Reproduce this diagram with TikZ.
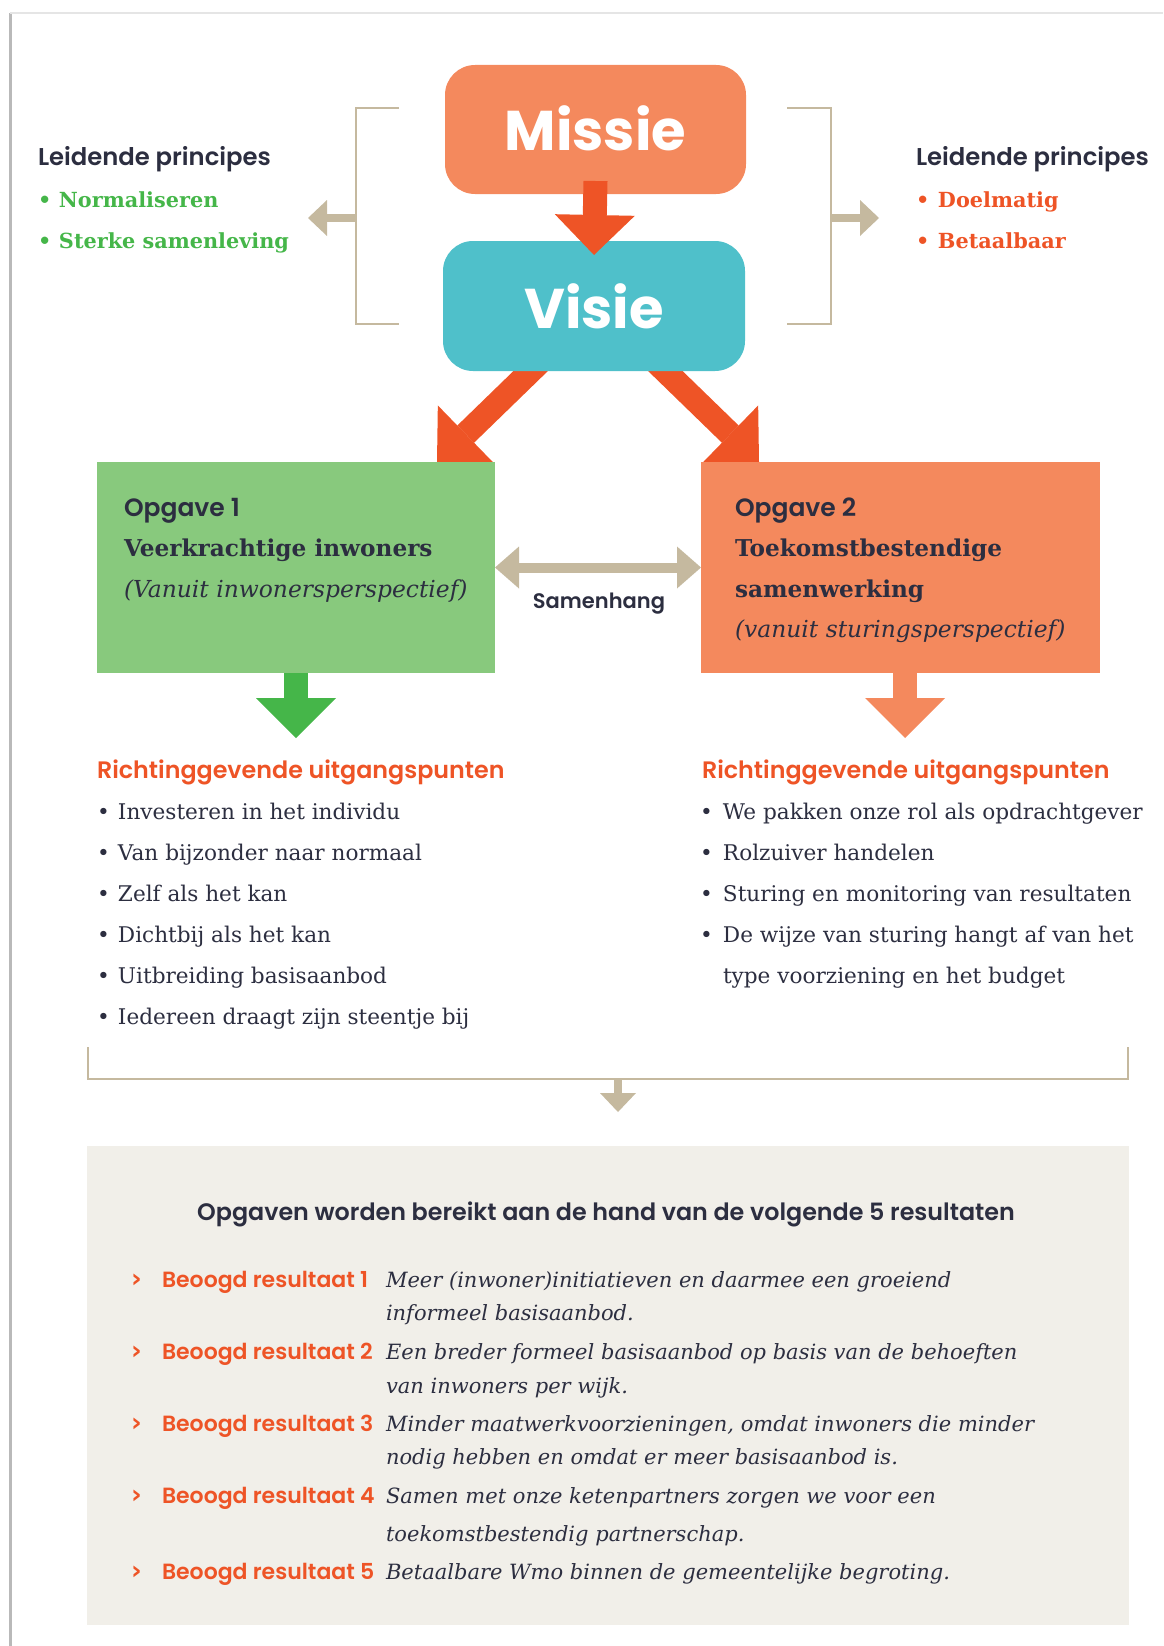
\documentclass[tikz,border=0pt]{standalone}
\usepackage{fontspec}
\setmainfont{DejaVu Serif}
\newfontfamily\headfont{Poppins SemiBold}
\newfontfamily\bigfont{Poppins Bold}
\newfontfamily\symfont{DejaVu Sans}
\usetikzlibrary{arrows.meta,backgrounds}

\definecolor{missieorange}{RGB}{244,137,93}
\definecolor{visieteal}{RGB}{79,192,202}
\definecolor{opggreen}{RGB}{136,201,125}
\definecolor{arrowred}{RGB}{238,84,38}
\definecolor{arrowgreen}{RGB}{69,182,73}
\definecolor{linetan}{RGB}{197,185,159}
\definecolor{resultbg}{RGB}{241,239,233}
\definecolor{textdark}{RGB}{44,46,64}

\begin{document}
\begin{tikzpicture}[x=1pt, y=-1pt,
    every node/.style={inner sep=0pt, outer sep=0pt, text=textdark},
    topbox/.style={rounded corners=30pt, minimum width=301pt, minimum height=129pt,
        text=white, font=\bigfont\fontsize{56}{56}\selectfont},
    opgbox/.style={minimum width=398pt, minimum height=211pt},
    redarrow/.style={draw=arrowred, line width=24pt,
        -{Triangle[width=80pt, length=40pt, line width=0pt]}},
    tanline/.style={draw=linetan, line width=2.5pt},
    tanarrow/.style={draw=linetan, line width=8pt,
        -{Triangle[width=36pt, length=19pt, line width=0pt]}},
    principle/.style={anchor=base west, font=\headfont\fontsize{24.3}{24.3}\selectfont},
    valueitem/.style={anchor=base west, font=\bfseries\fontsize{20.8}{20.8}\selectfont},
    opgtitle/.style={anchor=base west, font=\headfont\fontsize{25}{25}\selectfont},
    opgname/.style={anchor=base west, font=\bfseries\fontsize{23.2}{23.2}\selectfont},
    opgview/.style={anchor=base west, font=\itshape\fontsize{23.4}{23.4}\selectfont},
    richting/.style={anchor=base west, text=arrowred, font=\headfont\fontsize{23.8}{23.8}\selectfont},
    listitem/.style={anchor=base west, font=\fontsize{21.6}{21.6}\selectfont},
    reslabel/.style={anchor=base west, text=arrowred, font=\headfont\fontsize{22}{22}\selectfont},
    restext/.style={anchor=base west, font=\itshape\fontsize{21}{21}\selectfont}]

  \useasboundingbox (0,0) rectangle (1163,1646);
  % page edge
  \draw[gray!55, line width=3pt] (10,13) -- (10,1646);
  \draw[gray!20, line width=1.5pt] (10,13) -- (1163,13);

  % Missie and Visie
  \node[topbox, fill=missieorange] (missie) at (595.5,129.5) {\raisebox{3pt}{Missie}};
  \node[topbox, fill=visieteal, minimum width=302pt, minimum height=130pt] (visie) at (594,306) {Visie};
  \draw[redarrow] ([yshift=13pt]missie.south) -- ([yshift=-14pt]visie.north);

  % Leidende principes, left
  \node[principle] (lpleft) at (38,165) {Leidende principes};
  \node[valueitem, text=arrowgreen] (norm) at (38,207.5) {\makebox[21pt][l]{\textbullet}Normaliseren};
  \node[valueitem, text=arrowgreen] (sterk) at (38,248.5) {\makebox[21pt][l]{\textbullet}Sterke samenleving};
  \draw[tanline] (399,108) -- (356,108) -- (356,324) -- (399,324);
  \coordinate (lbrack) at (356,218);
  \coordinate (ltip) at (308,218);
  \draw[tanarrow] (lbrack) -- (ltip);

  % Leidende principes, right
  \node[principle] (lpright) at (916,165) {Leidende principes};
  \node[valueitem, text=arrowred] (doel) at (916,207.5) {\makebox[22pt][l]{\textbullet}Doelmatig};
  \node[valueitem, text=arrowred] (betaal) at (916,248.5) {\makebox[22pt][l]{\textbullet}Betaalbaar};
  \draw[tanline] (787,108) -- (831,108) -- (831,324) -- (787,324);
  \coordinate (rbrack) at (831,218);
  \coordinate (rtip) at (879,218);
  \draw[tanarrow] (rbrack) -- (rtip);

  % Opgaven
  \node[opgbox, fill=opggreen] (opg1) at (296,567.5) {};
  \node[opgbox, fill=missieorange, minimum width=399pt] (opg2) at (900.5,567.5) {};
  \begin{scope}[on background layer]
    \draw[redarrow] ([xshift=-53pt,yshift=10pt]visie.south) -- ([xshift=-58pt]opg1.north east);
    \draw[redarrow] ([xshift=61pt,yshift=10pt]visie.south) -- ([xshift=58pt]opg2.north west);
  \end{scope}

  \node[opgtitle] (o1a) at (124,516) {Opgave 1};
  \node[opgname] (o1b) at (124,556) {Veerkrachtige inwoners};
  \node[opgview] (o1c) at (124,597) {(Vanuit inwonersperspectief)};

  \node[opgtitle] (o2a) at (735,516) {Opgave 2};
  \node[opgname] (o2b) at (735,556) {Toekomstbestendige};
  \node[opgname] (o2c) at (735,597) {samenwerking};
  \node[opgview] (o2d) at (735,637) {(vanuit sturingsperspectief)};

  \draw[draw=linetan, line width=10pt,
    {Triangle[width=42pt, length=24pt, line width=0pt]}-{Triangle[width=42pt, length=24pt, line width=0pt]}]
    (opg1.east) -- (opg2.west);
  \node[font=\headfont\fontsize{21}{21}\selectfont] (samen) at (599,604) {Samenhang};

  \coordinate (g1tip) at (296,738);
  \coordinate (g2tip) at (905,738);
  \draw[redarrow, draw=arrowgreen] (opg1.south) -- (g1tip);
  \draw[redarrow, draw=missieorange] ([xshift=4.5pt]opg2.south) -- (g2tip);

  % Richtinggevende uitgangspunten, left
  \node[richting] (rleft) at (97,778) {Richtinggevende uitgangspunten};
  \node[listitem] (l1) at (97,819.5) {\makebox[21pt][l]{\textbullet}Investeren in het individu};
  \node[listitem] (l2) at (97,860.5) {\makebox[21pt][l]{\textbullet}Van bijzonder naar normaal};
  \node[listitem] (l3) at (97,901.5) {\makebox[21pt][l]{\textbullet}Zelf als het kan};
  \node[listitem] (l4) at (97,942.5) {\makebox[21pt][l]{\textbullet}Dichtbij als het kan};
  \node[listitem] (l5) at (97,983.5) {\makebox[21pt][l]{\textbullet}Uitbreiding basisaanbod};
  \node[listitem] (l6) at (97,1024.5) {\makebox[21pt][l]{\textbullet}Iedereen draagt zijn steentje bij};

  % Richtinggevende uitgangspunten, right
  \node[richting] (rright) at (702,778) {Richtinggevende uitgangspunten};
  \node[listitem] (r1) at (700,819.5) {\makebox[23pt][l]{\textbullet}We pakken onze rol als opdrachtgever};
  \node[listitem] (r2) at (700,860.5) {\makebox[23pt][l]{\textbullet}Rolzuiver handelen};
  \node[listitem] (r3) at (700,901.5) {\makebox[23pt][l]{\textbullet}Sturing en monitoring van resultaten};
  \node[listitem] (r4) at (700,942.5) {\makebox[23pt][l]{\textbullet}De wijze van sturing hangt af van het};
  \node[listitem] (r5) at (723,983.5) {type voorziening en het budget};

  % bracket to the results
  \draw[tanline] (88,1047) -- (88,1079) -- (1128,1079) -- (1128,1047);
  \coordinate (bbrack) at (618,1079);
  \coordinate (btip) at (618,1112);
  \draw[tanarrow] (bbrack) -- (btip);

  % Resultaten
  \node[fill=resultbg, minimum width=1042pt, minimum height=479pt] (resbox) at (608,1385.5) {};
  \node[anchor=base, font=\headfont\fontsize{23.8}{23.8}\selectfont] (restitle) at (606,1220)
    {Opgaven worden bereikt aan de hand van de volgende 5 resultaten};

  \node[reslabel] (b1) at (131,1287) {\makebox[31pt][l]{\symfont\bfseries\fontsize{26}{26}\selectfont ›}Beoogd resultaat 1};
  \node[restext] (t1a) at (386,1287) {Meer (inwoner)initiatieven en daarmee een groeiend};
  \node[restext] (t1b) at (386,1320) {informeel basisaanbod.};
  \node[reslabel] (b2) at (131,1359.5) {\makebox[31pt][l]{\symfont\bfseries\fontsize{26}{26}\selectfont ›}Beoogd resultaat 2};
  \node[restext] (t2a) at (386,1359.5) {Een breder formeel basisaanbod op basis van de behoeften};
  \node[restext] (t2b) at (386,1393) {van inwoners per wijk.};
  \node[reslabel] (b3) at (131,1431.5) {\makebox[31pt][l]{\symfont\bfseries\fontsize{26}{26}\selectfont ›}Beoogd resultaat 3};
  \node[restext] (t3a) at (386,1431.5) {Minder maatwerkvoorzieningen, omdat inwoners die minder};
  \node[restext] (t3b) at (386,1464.5) {nodig hebben en omdat er meer basisaanbod is.};
  \node[reslabel] (b4) at (131,1503.5) {\makebox[31pt][l]{\symfont\bfseries\fontsize{26}{26}\selectfont ›}Beoogd resultaat 4};
  \node[restext] (t4a) at (386,1503.5) {Samen met onze ketenpartners zorgen we voor een};
  \node[restext] (t4b) at (386,1541) {toekomstbestendig partnerschap.};
  \node[reslabel] (b5) at (131,1579.5) {\makebox[31pt][l]{\symfont\bfseries\fontsize{26}{26}\selectfont ›}Beoogd resultaat 5};
  \node[restext] (t5a) at (386,1579.5) {Betaalbare Wmo binnen de gemeentelijke begroting.};
\end{tikzpicture}
\end{document}
